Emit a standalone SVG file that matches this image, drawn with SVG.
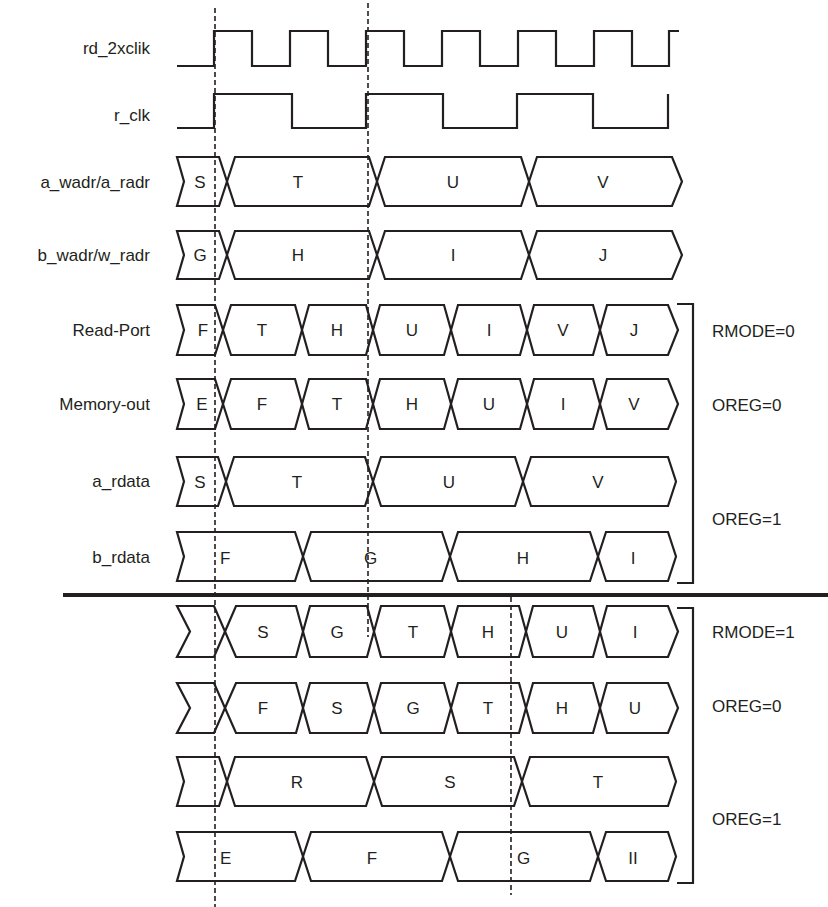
<svg xmlns="http://www.w3.org/2000/svg" width="828" height="907" viewBox="0 0 828 907">
<style>
.w{fill:none;stroke:#231f20;stroke-width:2.2;stroke-linejoin:miter}
.b{fill:none;stroke:#231f20;stroke-width:2.2;stroke-linejoin:miter}
.lbl{font-family:"Liberation Sans",Arial,sans-serif;font-size:17px;fill:#231f20;text-anchor:end}
.v{font-family:"Liberation Sans",Arial,sans-serif;font-size:17px;fill:#231f20;text-anchor:middle}
.vs{font-family:"Liberation Sans",Arial,sans-serif;font-size:17px;fill:#231f20;text-anchor:start}
.r{font-family:"Liberation Sans",Arial,sans-serif;font-size:17px;fill:#231f20}
.d{fill:none;stroke:#231f20;stroke-width:1.6;stroke-dasharray:5 3}
.sep{fill:none;stroke:#231f20;stroke-width:4}
</style>
<rect width="828" height="907" fill="#ffffff"/>
<g id="rd_2xclik">
<text class="lbl" x="150" y="54">rd_2xclik</text>
<path class="w" d="M177,66 H214 V31 H252 V66 H290 V31 H328 V66 H366 V31 H404 V66 H442 V31 H480 V66 H518 V31 H556 V66 H594 V31 H632 V66 H669 V31 H679"/>
</g>
<g id="r_clk">
<text class="lbl" x="150" y="121">r_clk</text>
<path class="w" d="M177,128 H214 V94 H292 V128 H366 V94 H443 V128 H517 V94 H593 V128 H668 V94"/>
</g>
<g id="a_wadr">
<text class="lbl" x="150" y="188">a_wadr/a_radr</text>
<polygon class="b" points="177,157 219,157 227,181.5 219,206 177,206 184,181.5"/>
<polygon class="b" points="227,181.5 235,157 369,157 377,181.5 369,206 235,206"/>
<polygon class="b" points="377,181.5 385,157 521,157 529,181.5 521,206 385,206"/>
<polygon class="b" points="529,181.5 537,157 672,157 682,181.5 672,206 537,206"/>
<text class="v" x="200" y="187.5">S</text><text class="v" x="298" y="187.5">T</text><text class="v" x="453" y="187.5">U</text><text class="v" x="603" y="187.5">V</text>
</g>
<g id="b_wadr">
<text class="lbl" x="150" y="261">b_wadr/w_radr</text>
<polygon class="b" points="177,231 219,231 227,255 219,279 177,279 184,255"/>
<polygon class="b" points="227,255 235,231 369,231 377,255 369,279 235,279"/>
<polygon class="b" points="377,255 385,231 521,231 529,255 521,279 385,279"/>
<polygon class="b" points="529,255 537,231 672,231 682,255 672,279 537,279"/>
<text class="v" x="200" y="261">G</text><text class="v" x="298" y="261">H</text><text class="v" x="453" y="261">I</text><text class="v" x="603" y="261">J</text>
</g>
<g id="read_port">
<text class="lbl" x="150" y="336">Read-Port</text>
<polygon class="b" points="177,305 215,305 223,330 215,355 177,355 184,330"/>
<polygon class="b" points="223,330 231,305 295,305 302,330 295,355 231,355"/>
<polygon class="b" points="302,330 309,305 366,305 373,330 366,355 309,355"/>
<polygon class="b" points="373,330 380,305 444,305 451,330 444,355 380,355"/>
<polygon class="b" points="451,330 458,305 520,305 527,330 520,355 458,355"/>
<polygon class="b" points="527,330 534,305 593,305 600,330 593,355 534,355"/>
<polygon class="b" points="600,330 607,305 668,305 678,330 668,355 607,355"/>
<text class="v" x="203" y="336">F</text><text class="v" x="262" y="336">T</text><text class="v" x="337" y="336">H</text><text class="v" x="412" y="336">U</text><text class="v" x="489" y="336">I</text><text class="v" x="563" y="336">V</text><text class="v" x="634" y="336">J</text>
</g>
<g id="memory_out">
<text class="lbl" x="150" y="410">Memory-out</text>
<polygon class="b" points="177,379 215,379 223,404 215,429 177,429 184,404"/>
<polygon class="b" points="223,404 231,379 295,379 302,404 295,429 231,429"/>
<polygon class="b" points="302,404 309,379 366,379 373,404 366,429 309,429"/>
<polygon class="b" points="373,404 380,379 444,379 451,404 444,429 380,429"/>
<polygon class="b" points="451,404 458,379 520,379 527,404 520,429 458,429"/>
<polygon class="b" points="527,404 534,379 593,379 600,404 593,429 534,429"/>
<polygon class="b" points="600,404 607,379 668,379 678,404 668,429 607,429"/>
<text class="v" x="202" y="410">E</text><text class="v" x="262" y="410">F</text><text class="v" x="337" y="410">T</text><text class="v" x="412" y="410">H</text><text class="v" x="489" y="410">U</text><text class="v" x="563" y="410">I</text><text class="v" x="634" y="410">V</text>
</g>
<g id="a_rdata">
<text class="lbl" x="150" y="487">a_rdata</text>
<polygon class="b" points="177,457 218,457 226,481.5 218,506 177,506 184,481.5"/>
<polygon class="b" points="226,481.5 234,457 365,457 373,481.5 365,506 234,506"/>
<polygon class="b" points="373,481.5 381,457 515,457 523,481.5 515,506 381,506"/>
<polygon class="b" points="523,481.5 531,457 668,457 676,481.5 668,506 531,506"/>
<text class="v" x="200" y="487.5">S</text><text class="v" x="297" y="487.5">T</text><text class="v" x="449" y="487.5">U</text><text class="v" x="598" y="487.5">V</text>
</g>
<g id="b_rdata">
<text class="lbl" x="150" y="563">b_rdata</text>
<polygon class="b" points="177,532 295,532 303,556.5 295,581 177,581 184,556.5"/>
<polygon class="b" points="303,556.5 311,532 442,532 450,556.5 442,581 311,581"/>
<polygon class="b" points="450,556.5 458,532 590,532 598,556.5 590,581 458,581"/>
<polygon class="b" points="598,556.5 606,532 668,532 676,556.5 668,581 606,581"/>
<text class="vs" x="220" y="564">F</text><text class="vs" x="364" y="564">G</text><text class="v" x="523" y="564">H</text><text class="v" x="633" y="564">I</text>
</g>
<g id="rmode1_row1">
<polygon class="b" points="177,606 214,606 225,631.5 214,657 177,657 190,631.5"/>
<polygon class="b" points="225,631.5 236,606 296,606 303,631.5 296,657 236,657"/>
<polygon class="b" points="303,631.5 310,606 367,606 374,631.5 367,657 310,657"/>
<polygon class="b" points="374,631.5 381,606 444,606 451,631.5 444,657 381,657"/>
<polygon class="b" points="451,631.5 458,606 519,606 526,631.5 519,657 458,657"/>
<polygon class="b" points="526,631.5 533,606 593,606 600,631.5 593,657 533,657"/>
<polygon class="b" points="600,631.5 607,606 668,606 678,631.5 668,657 607,657"/>
<text class="v" x="263" y="637.5">S</text><text class="v" x="337" y="637.5">G</text><text class="v" x="413" y="637.5">T</text><text class="v" x="488" y="637.5">H</text><text class="v" x="562" y="637.5">U</text><text class="v" x="635" y="637.5">I</text>
</g>
<g id="rmode1_row2">
<polygon class="b" points="177,683 214,683 225,708 214,733 177,733 190,708"/>
<polygon class="b" points="225,708 236,683 296,683 303,708 296,733 236,733"/>
<polygon class="b" points="303,708 310,683 367,683 374,708 367,733 310,733"/>
<polygon class="b" points="374,708 381,683 444,683 451,708 444,733 381,733"/>
<polygon class="b" points="451,708 458,683 519,683 526,708 519,733 458,733"/>
<polygon class="b" points="526,708 533,683 593,683 600,708 593,733 533,733"/>
<polygon class="b" points="600,708 607,683 668,683 678,708 668,733 607,733"/>
<text class="v" x="263" y="714">F</text><text class="v" x="337" y="714">S</text><text class="v" x="413" y="714">G</text><text class="v" x="488" y="714">T</text><text class="v" x="562" y="714">H</text><text class="v" x="635" y="714">U</text>
</g>
<g id="rmode1_row3">
<polygon class="b" points="177,757 219,757 227,781.5 219,806 177,806 184,781.5"/>
<polygon class="b" points="227,781.5 235,757 366,757 374,781.5 366,806 235,806"/>
<polygon class="b" points="374,781.5 382,757 514,757 522,781.5 514,806 382,806"/>
<polygon class="b" points="522,781.5 530,757 668,757 676,781.5 668,806 530,806"/>
<text class="v" x="297" y="787.5">R</text><text class="v" x="450" y="787.5">S</text><text class="v" x="598" y="787.5">T</text>
</g>
<g id="rmode1_row4">
<polygon class="b" points="177,832 295,832 303,856.5 295,881 177,881 184,856.5"/>
<polygon class="b" points="303,856.5 311,832 442,832 450,856.5 442,881 311,881"/>
<polygon class="b" points="450,856.5 458,832 590,832 598,856.5 590,881 458,881"/>
<polygon class="b" points="598,856.5 606,832 668,832 676,856.5 668,881 606,881"/>
<text class="vs" x="220" y="864">E</text><text class="v" x="372" y="864">F</text><text class="vs" x="517" y="864">G</text><text class="v" x="633" y="864">II</text>
</g>
<g id="mode_labels">
<path class="b" d="M677,304 H693 V583 H677"/>
<text class="r" x="712" y="337">RMODE=0</text>
<text class="r" x="712" y="411">OREG=0</text>
<text class="r" x="712" y="525">OREG=1</text>
<path class="b" d="M677,608 H693 V883 H677"/>
<text class="r" x="712" y="638">RMODE=1</text>
<text class="r" x="712" y="712">OREG=0</text>
<text class="r" x="712" y="825">OREG=1</text>
</g>
<g id="connectors">
<line class="sep" x1="63" y1="595" x2="828" y2="595"/>
<line class="d" x1="215" y1="8" x2="215" y2="907"/>
<line class="d" x1="368" y1="3" x2="368" y2="637"/>
<line class="d" x1="511" y1="597" x2="511" y2="895"/>
</g>
</svg>
